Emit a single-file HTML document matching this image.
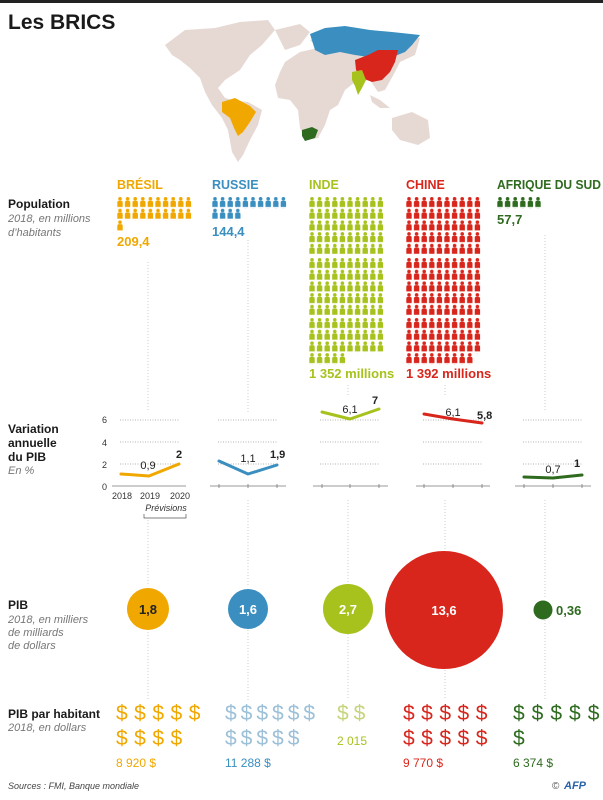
<!DOCTYPE html>
<html><head><meta charset="utf-8"><style>
html,body{margin:0;padding:0;background:#fff}
svg{display:block}
text{font-family:"Liberation Sans",sans-serif}
</style></head><body>
<svg width="603" height="800" viewBox="0 0 603 800" xmlns="http://www.w3.org/2000/svg">
<defs>
<g id="p"><circle cx="3" cy="1.8" r="1.8"/><path d="M0.3 10 L0.3 5.5 Q0.3 3.8 2 3.8 L4 3.8 Q5.7 3.8 5.7 5.5 L5.7 10 Z"/></g>
<pattern id="pb" x="0" y="0" width="7.6" height="11.7" patternUnits="userSpaceOnUse"><use href="#p" fill="#f0a800"/></pattern>
<pattern id="pr" x="0" y="0" width="7.6" height="11.7" patternUnits="userSpaceOnUse"><use href="#p" fill="#3a8fc0"/></pattern>
<pattern id="pi" x="0" y="0" width="7.6" height="11.7" patternUnits="userSpaceOnUse"><use href="#p" fill="#a8c21d"/></pattern>
<pattern id="pc" x="0" y="0" width="7.6" height="11.7" patternUnits="userSpaceOnUse"><use href="#p" fill="#d9261c"/></pattern>
<pattern id="ps" x="0" y="0" width="7.6" height="11.7" patternUnits="userSpaceOnUse"><use href="#p" fill="#2e6b1f"/></pattern>
</defs>
<rect x="0" y="0" width="603" height="3" fill="#222"/>
<text x="8" y="29" font-size="21" font-weight="bold" fill="#1a1a1a">Les BRICS</text>

<!-- map -->
<g fill="#e6d9d4">
<path d="M165 45 L185 30 L215 28 L240 22 L268 20 L275 30 L262 45 L250 55 L240 70 L225 80 L218 88 L225 98 L232 100 L248 102 L262 110 L258 125 L250 140 L243 155 L238 162 L232 152 L228 130 L222 118 L212 105 L205 92 L200 78 L190 68 L180 60 L172 55 Z"/>
<path d="M275 30 L300 24 L310 32 L300 45 L285 50 Z"/>
<path d="M285 62 L300 52 L318 48 L310 40 L330 36 L360 40 L395 35 L420 38 L415 55 L400 62 L395 72 L385 90 L378 92 L370 80 L355 82 L345 90 L338 105 L330 110 L325 125 L318 138 L305 140 L300 128 L298 110 L290 100 L278 98 L275 85 L280 72 Z"/>
<path d="M392 118 L412 112 L428 120 L430 138 L418 145 L400 140 L392 130 Z"/>
<path d="M370 95 L380 100 L390 108 L380 108 L372 102 Z"/>
</g>
<path d="M310 34 L325 28 L345 26 L370 30 L392 32 L420 35 L412 45 L405 52 L395 56 L375 58 L355 55 L340 52 L325 55 L315 50 Z" fill="#3a8fc0"/>
<path d="M355 60 L368 55 L378 50 L398 50 L395 62 L390 72 L382 80 L372 82 L362 78 L356 70 Z" fill="#d9261c"/>
<path d="M352 72 L362 70 L366 80 L362 88 L358 95 L355 86 L352 80 Z" fill="#a8c21d"/>
<path d="M222 102 L235 98 L250 106 L256 112 L250 122 L243 132 L238 136 L234 128 L230 118 L222 112 Z" fill="#f0a800"/>
<path d="M302 130 L312 127 L318 130 L315 138 L305 141 L302 136 Z" fill="#2e6b1f"/>

<!-- column titles -->
<g font-size="12.5" font-weight="bold">
<text x="117" y="189" fill="#f0a800">BRÉSIL</text>
<text x="212" y="189" fill="#3a8fc0">RUSSIE</text>
<text x="309" y="189" fill="#a8c21d">INDE</text>
<text x="406" y="189" fill="#d9261c">CHINE</text>
<text x="497" y="189" fill="#2e6b1f" textLength="104" lengthAdjust="spacingAndGlyphs">AFRIQUE DU SUD</text>
</g>

<!-- left labels -->
<g font-size="12" fill="#1a1a1a">
<text x="8" y="208" font-weight="bold">Population</text>
<text x="8" y="222" font-style="italic" fill="#777" font-size="11">2018, en millions</text>
<text x="8" y="236" font-style="italic" fill="#777" font-size="11">d’habitants</text>
<text x="8" y="433" font-weight="bold">Variation</text>
<text x="8" y="447" font-weight="bold">annuelle</text>
<text x="8" y="461" font-weight="bold">du PIB</text>
<text x="8" y="474" font-style="italic" fill="#777" font-size="11">En %</text>
<text x="8" y="609" font-weight="bold">PIB</text>
<text x="8" y="623" font-style="italic" fill="#777" font-size="11">2018, en milliers</text>
<text x="8" y="636" font-style="italic" fill="#777" font-size="11">de milliards</text>
<text x="8" y="649" font-style="italic" fill="#777" font-size="11">de dollars</text>
<text x="8" y="718" font-weight="bold">PIB par habitant</text>
<text x="8" y="731" font-style="italic" fill="#777" font-size="11">2018, en dollars</text>
</g>

<!-- vertical dotted lines -->
<g stroke="#ccc" stroke-width="1" stroke-dasharray="1,2">
<line x1="148" y1="262" x2="148" y2="412"/><line x1="148" y1="520" x2="148" y2="586"/><line x1="148" y1="632" x2="148" y2="700"/>
<line x1="248" y1="240" x2="248" y2="412"/><line x1="248" y1="500" x2="248" y2="586"/><line x1="248" y1="630" x2="248" y2="700"/>
<line x1="348" y1="385" x2="348" y2="395"/><line x1="348" y1="500" x2="348" y2="582"/><line x1="348" y1="634" x2="348" y2="700"/>
<line x1="445" y1="385" x2="445" y2="395"/><line x1="445" y1="500" x2="445" y2="550"/><line x1="445" y1="670" x2="445" y2="700"/>
<line x1="545" y1="235" x2="545" y2="412"/><line x1="545" y1="500" x2="545" y2="598"/><line x1="545" y1="620" x2="545" y2="700"/>
</g>

<!-- population icons -->
<g transform="translate(117,197)"><rect x="0" y="0" width="76" height="23.4" fill="url(#pb)"/><rect x="0" y="23.4" width="7.6" height="11.7" fill="url(#pb)"/></g>
<text x="117" y="246" font-size="13" font-weight="bold" fill="#f0a800">209,4</text>
<g transform="translate(212,197)"><rect x="0" y="0" width="76" height="11.7" fill="url(#pr)"/><rect x="0" y="11.7" width="30.4" height="11.7" fill="url(#pr)"/></g>
<text x="212" y="236" font-size="13" font-weight="bold" fill="#3a8fc0">144,4</text>
<g transform="translate(309,197)"><rect x="0" y="0" width="76" height="58.5" fill="url(#pi)"/></g>
<g transform="translate(309,258)"><rect x="0" y="0" width="76" height="58.5" fill="url(#pi)"/></g>
<g transform="translate(309,318)"><rect x="0" y="0" width="76" height="35.1" fill="url(#pi)"/><rect x="0" y="35.1" width="38" height="11.7" fill="url(#pi)"/></g>
<text x="309" y="378" font-size="13" font-weight="bold" fill="#a8c21d">1 352 millions</text>
<g transform="translate(406,197)"><rect x="0" y="0" width="76" height="58.5" fill="url(#pc)"/></g>
<g transform="translate(406,258)"><rect x="0" y="0" width="76" height="58.5" fill="url(#pc)"/></g>
<g transform="translate(406,318)"><rect x="0" y="0" width="76" height="35.1" fill="url(#pc)"/><rect x="0" y="35.1" width="68.4" height="11.7" fill="url(#pc)"/></g>
<text x="406" y="378" font-size="13" font-weight="bold" fill="#d9261c">1 392 millions</text>
<g transform="translate(497,197)"><rect x="0" y="0" width="45.6" height="11.7" fill="url(#ps)"/></g>
<text x="497" y="224" font-size="13" font-weight="bold" fill="#2e6b1f">57,7</text>

<!-- GDP growth charts -->
<g font-size="9" fill="#333">
<text x="107" y="423" text-anchor="end">6</text><text x="107" y="446" text-anchor="end">4</text>
<text x="107" y="468" text-anchor="end">2</text><text x="107" y="490" text-anchor="end">0</text>
<text x="122" y="499" text-anchor="middle">2018</text><text x="150" y="499" text-anchor="middle">2019</text><text x="180" y="499" text-anchor="middle">2020</text>
<text x="166" y="511" text-anchor="middle" font-style="italic">Prévisions</text>
</g>
<path d="M144 514 L144 518 L186 518 L186 514" fill="none" stroke="#555" stroke-width="0.7"/>
<g stroke="#999" stroke-width="0.8" stroke-dasharray="1,1.5">
<line x1="120" y1="420" x2="180" y2="420"/><line x1="120" y1="442" x2="180" y2="442"/><line x1="120" y1="464" x2="180" y2="464"/>
<line x1="218" y1="420" x2="278" y2="420"/><line x1="218" y1="442" x2="278" y2="442"/><line x1="218" y1="464" x2="278" y2="464"/>
<line x1="320" y1="420" x2="380" y2="420"/><line x1="320" y1="442" x2="380" y2="442"/><line x1="320" y1="464" x2="380" y2="464"/>
<line x1="423" y1="420" x2="483" y2="420"/><line x1="423" y1="442" x2="483" y2="442"/><line x1="423" y1="464" x2="483" y2="464"/>
<line x1="523" y1="420" x2="583" y2="420"/><line x1="523" y1="442" x2="583" y2="442"/><line x1="523" y1="464" x2="583" y2="464"/>
</g>
<g stroke="#777" stroke-width="0.8">
<line x1="112" y1="486" x2="186" y2="486"/><line x1="210" y1="486" x2="286" y2="486"/><line x1="313" y1="486" x2="388" y2="486"/>
<line x1="416" y1="486" x2="490" y2="486"/><line x1="515" y1="486" x2="591" y2="486"/>
<line x1="219" y1="484" x2="219" y2="488"/><line x1="248" y1="484" x2="248" y2="488"/><line x1="277" y1="484" x2="277" y2="488"/>
<line x1="322" y1="484" x2="322" y2="488"/><line x1="350" y1="484" x2="350" y2="488"/><line x1="379" y1="484" x2="379" y2="488"/>
<line x1="424" y1="484" x2="424" y2="488"/><line x1="453" y1="484" x2="453" y2="488"/><line x1="482" y1="484" x2="482" y2="488"/>
<line x1="524" y1="484" x2="524" y2="488"/><line x1="553" y1="484" x2="553" y2="488"/><line x1="582" y1="484" x2="582" y2="488"/>
</g>
<g fill="none" stroke-width="3" stroke-linejoin="round" stroke-linecap="round">
<polyline points="121,474 149,476 179,464" stroke="#f0a800"/>
<polyline points="219,461 248,474 277,465" stroke="#3a8fc0"/>
<polyline points="322,412 350,419 379,409" stroke="#a8c21d"/>
<polyline points="424,414 453,419 482,423" stroke="#d9261c"/>
<polyline points="524,477 553,478 582,475" stroke="#2e6b1f"/>
</g>
<g font-size="11" fill="#222">
<text x="148" y="469" text-anchor="middle">0,9</text><text x="176" y="458" font-weight="bold">2</text>
<text x="248" y="462" text-anchor="middle">1,1</text><text x="270" y="458" font-weight="bold">1,9</text>
<text x="350" y="413" text-anchor="middle">6,1</text><text x="372" y="404" font-weight="bold">7</text>
<text x="453" y="416" text-anchor="middle">6,1</text><text x="477" y="419" font-weight="bold">5,8</text>
<text x="553" y="473" text-anchor="middle">0,7</text><text x="574" y="467" font-weight="bold">1</text>
</g>

<!-- GDP circles -->
<circle cx="148" cy="609" r="21" fill="#f0a800"/>
<circle cx="248" cy="609" r="20" fill="#3a8fc0"/>
<circle cx="348" cy="609" r="25" fill="#a8c21d"/>
<circle cx="444" cy="610" r="59" fill="#d9261c"/>
<circle cx="543" cy="610" r="9.5" fill="#2e6b1f"/>
<g font-size="13" font-weight="bold" text-anchor="middle">
<text x="148" y="614" fill="#222">1,8</text>
<text x="248" y="614" fill="#fff">1,6</text>
<text x="348" y="614" fill="#fff">2,7</text>
<text x="444" y="615" fill="#fff">13,6</text>
</g>
<text x="556" y="615" font-size="13" font-weight="bold" fill="#2e6b1f">0,36</text>

<!-- dollars -->
<g font-size="21">
<text x="116" y="720" fill="#f0a800" letter-spacing="6.5">$$$$$</text>
<text x="116" y="745" fill="#f0a800" letter-spacing="6.5">$$$$</text>
<text x="225" y="720" fill="#9cc0d8" letter-spacing="4">$$$$$$</text>
<text x="225" y="745" fill="#9cc0d8" letter-spacing="4">$$$$$</text>
<text x="337" y="720" fill="#c6d57d" letter-spacing="5">$$</text>
<text x="403" y="720" fill="#d9261c" letter-spacing="6.5">$$$$$</text>
<text x="403" y="745" fill="#d9261c" letter-spacing="6.5">$$$$$</text>
<text x="513" y="720" fill="#2e6b1f" letter-spacing="7">$$$$$</text>
<text x="513" y="745" fill="#2e6b1f">$</text>
</g>
<g font-size="12">
<text x="116" y="767" fill="#f0a800">8 920 $</text>
<text x="225" y="767" fill="#3a8fc0">11 288 $</text>
<text x="337" y="745" fill="#a8c21d">2 015</text>
<text x="403" y="767" fill="#d9261c">9 770 $</text>
<text x="513" y="767" fill="#2e6b1f">6 374 $</text>
</g>
<text x="8" y="789" font-size="9" font-style="italic" fill="#444">Sources : FMI, Banque mondiale</text>
<text x="552" y="789" font-size="10" fill="#555">©</text>
<text x="564" y="789" font-size="11" font-weight="bold" font-style="italic" fill="#2a62a8">AFP</text>
</svg>
</body></html>
